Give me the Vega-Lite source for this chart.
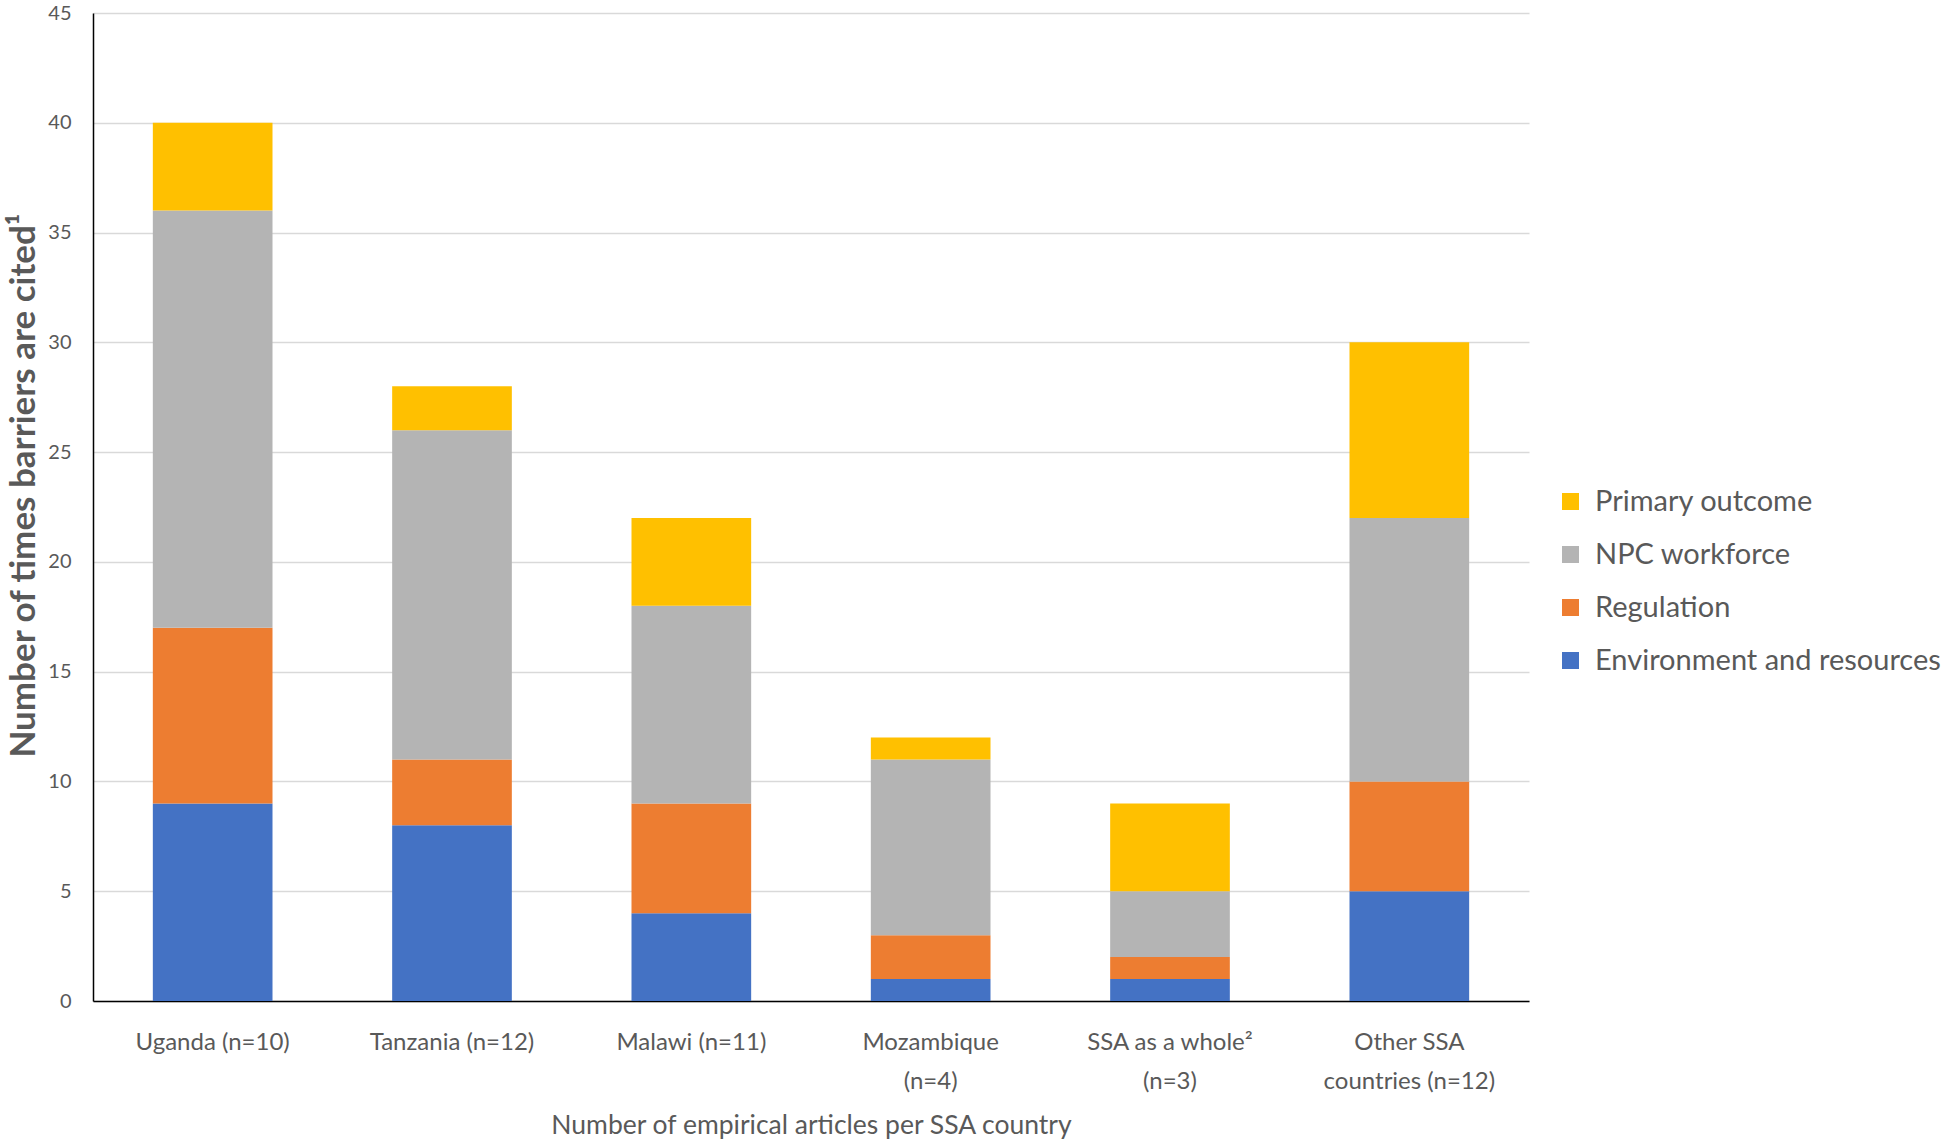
{
  "$schema": "https://vega.github.io/schema/vega-lite/v6.json",
  "width": 1436,
  "height": 988,
  "autosize": {"type": "none"},
  "padding": {"left": 93, "top": 13, "right": 417, "bottom": 140},
  "background": "white",
  "config": {
    "font": "Lato",
    "view": {"stroke": null},
    "axis": {"labelColor": "#595959", "titleColor": "#595959", "labelFont": "Lato", "titleFont": "Lato"}
  },
  "data": {
    "values": [
      {"country": "Uganda (n=10)", "barrier": "Environment and resources", "count": 9},
      {"country": "Uganda (n=10)", "barrier": "Regulation", "count": 8},
      {"country": "Uganda (n=10)", "barrier": "NPC workforce", "count": 19},
      {"country": "Uganda (n=10)", "barrier": "Primary outcome", "count": 4},
      {"country": "Tanzania (n=12)", "barrier": "Environment and resources", "count": 8},
      {"country": "Tanzania (n=12)", "barrier": "Regulation", "count": 3},
      {"country": "Tanzania (n=12)", "barrier": "NPC workforce", "count": 15},
      {"country": "Tanzania (n=12)", "barrier": "Primary outcome", "count": 2},
      {"country": "Malawi (n=11)", "barrier": "Environment and resources", "count": 4},
      {"country": "Malawi (n=11)", "barrier": "Regulation", "count": 5},
      {"country": "Malawi (n=11)", "barrier": "NPC workforce", "count": 9},
      {"country": "Malawi (n=11)", "barrier": "Primary outcome", "count": 4},
      {"country": "Mozambique|(n=4)", "barrier": "Environment and resources", "count": 1},
      {"country": "Mozambique|(n=4)", "barrier": "Regulation", "count": 2},
      {"country": "Mozambique|(n=4)", "barrier": "NPC workforce", "count": 8},
      {"country": "Mozambique|(n=4)", "barrier": "Primary outcome", "count": 1},
      {"country": "SSA as a whole²|(n=3)", "barrier": "Environment and resources", "count": 1},
      {"country": "SSA as a whole²|(n=3)", "barrier": "Regulation", "count": 1},
      {"country": "SSA as a whole²|(n=3)", "barrier": "NPC workforce", "count": 3},
      {"country": "SSA as a whole²|(n=3)", "barrier": "Primary outcome", "count": 4},
      {"country": "Other SSA|countries (n=12)", "barrier": "Environment and resources", "count": 5},
      {"country": "Other SSA|countries (n=12)", "barrier": "Regulation", "count": 5},
      {"country": "Other SSA|countries (n=12)", "barrier": "NPC workforce", "count": 12},
      {"country": "Other SSA|countries (n=12)", "barrier": "Primary outcome", "count": 8}
    ]
  },
  "transform": [
    {"calculate": "indexof(['Environment and resources', 'Regulation', 'NPC workforce', 'Primary outcome'], datum.barrier)", "as": "stackOrder"}
  ],
  "mark": {"type": "bar"},
  "encoding": {
    "x": {
      "field": "country",
      "type": "nominal",
      "sort": null,
      "scale": {"paddingInner": 0.5, "paddingOuter": 0.25},
      "axis": {
        "title": "Number of empirical articles per SSA country",
        "titleFontSize": 26.5,
        "titleFontWeight": "normal",
        "titlePadding": 19,
        "labelAngle": 0,
        "labelFontSize": 24,
        "labelLineHeight": 39,
        "labelPadding": 29,
        "labelExpr": "split(datum.label, '|')",
        "ticks": false,
        "domainColor": "#000000",
        "domainWidth": 1.5,
        "grid": false
      }
    },
    "y": {
      "field": "count",
      "type": "quantitative",
      "stack": "zero",
      "scale": {"domain": [0, 45]},
      "axis": {
        "title": "Number of times barriers are cited¹",
        "titleFontSize": 35,
        "titleFontWeight": "bold",
        "titleX": -70,
        "titleY": 472,
        "titleAngle": -90,
        "titleAlign": "center",
        "titleBaseline": "middle",
        "values": [0, 5, 10, 15, 20, 25, 30, 35, 40, 45],
        "labelFontSize": 20,
        "labelPadding": 22,
        "ticks": false,
        "domainColor": "#000000",
        "domainWidth": 1.5,
        "grid": true,
        "gridColor": "#D9D9D9",
        "gridWidth": 1.5
      }
    },
    "color": {
      "field": "barrier",
      "type": "nominal",
      "scale": {
        "domain": ["Environment and resources", "Regulation", "NPC workforce", "Primary outcome"],
        "range": ["#4472C4", "#ED7D31", "#B4B4B4", "#FFC000"]
      },
      "legend": {
        "title": null,
        "orient": "none",
        "legendX": 1463,
        "legendY": 474,
        "padding": 0,
        "values": ["Primary outcome", "NPC workforce", "Regulation", "Environment and resources"],
        "symbolType": "square",
        "symbolSize": 289,
        "symbolStrokeWidth": 0,
        "labelFontSize": 29,
        "labelColor": "#595959",
        "labelOffset": 10,
        "labelLimit": 500,
        "rowPadding": 23
      }
    },
    "order": {"field": "stackOrder", "type": "quantitative", "sort": "ascending"}
  }
}
